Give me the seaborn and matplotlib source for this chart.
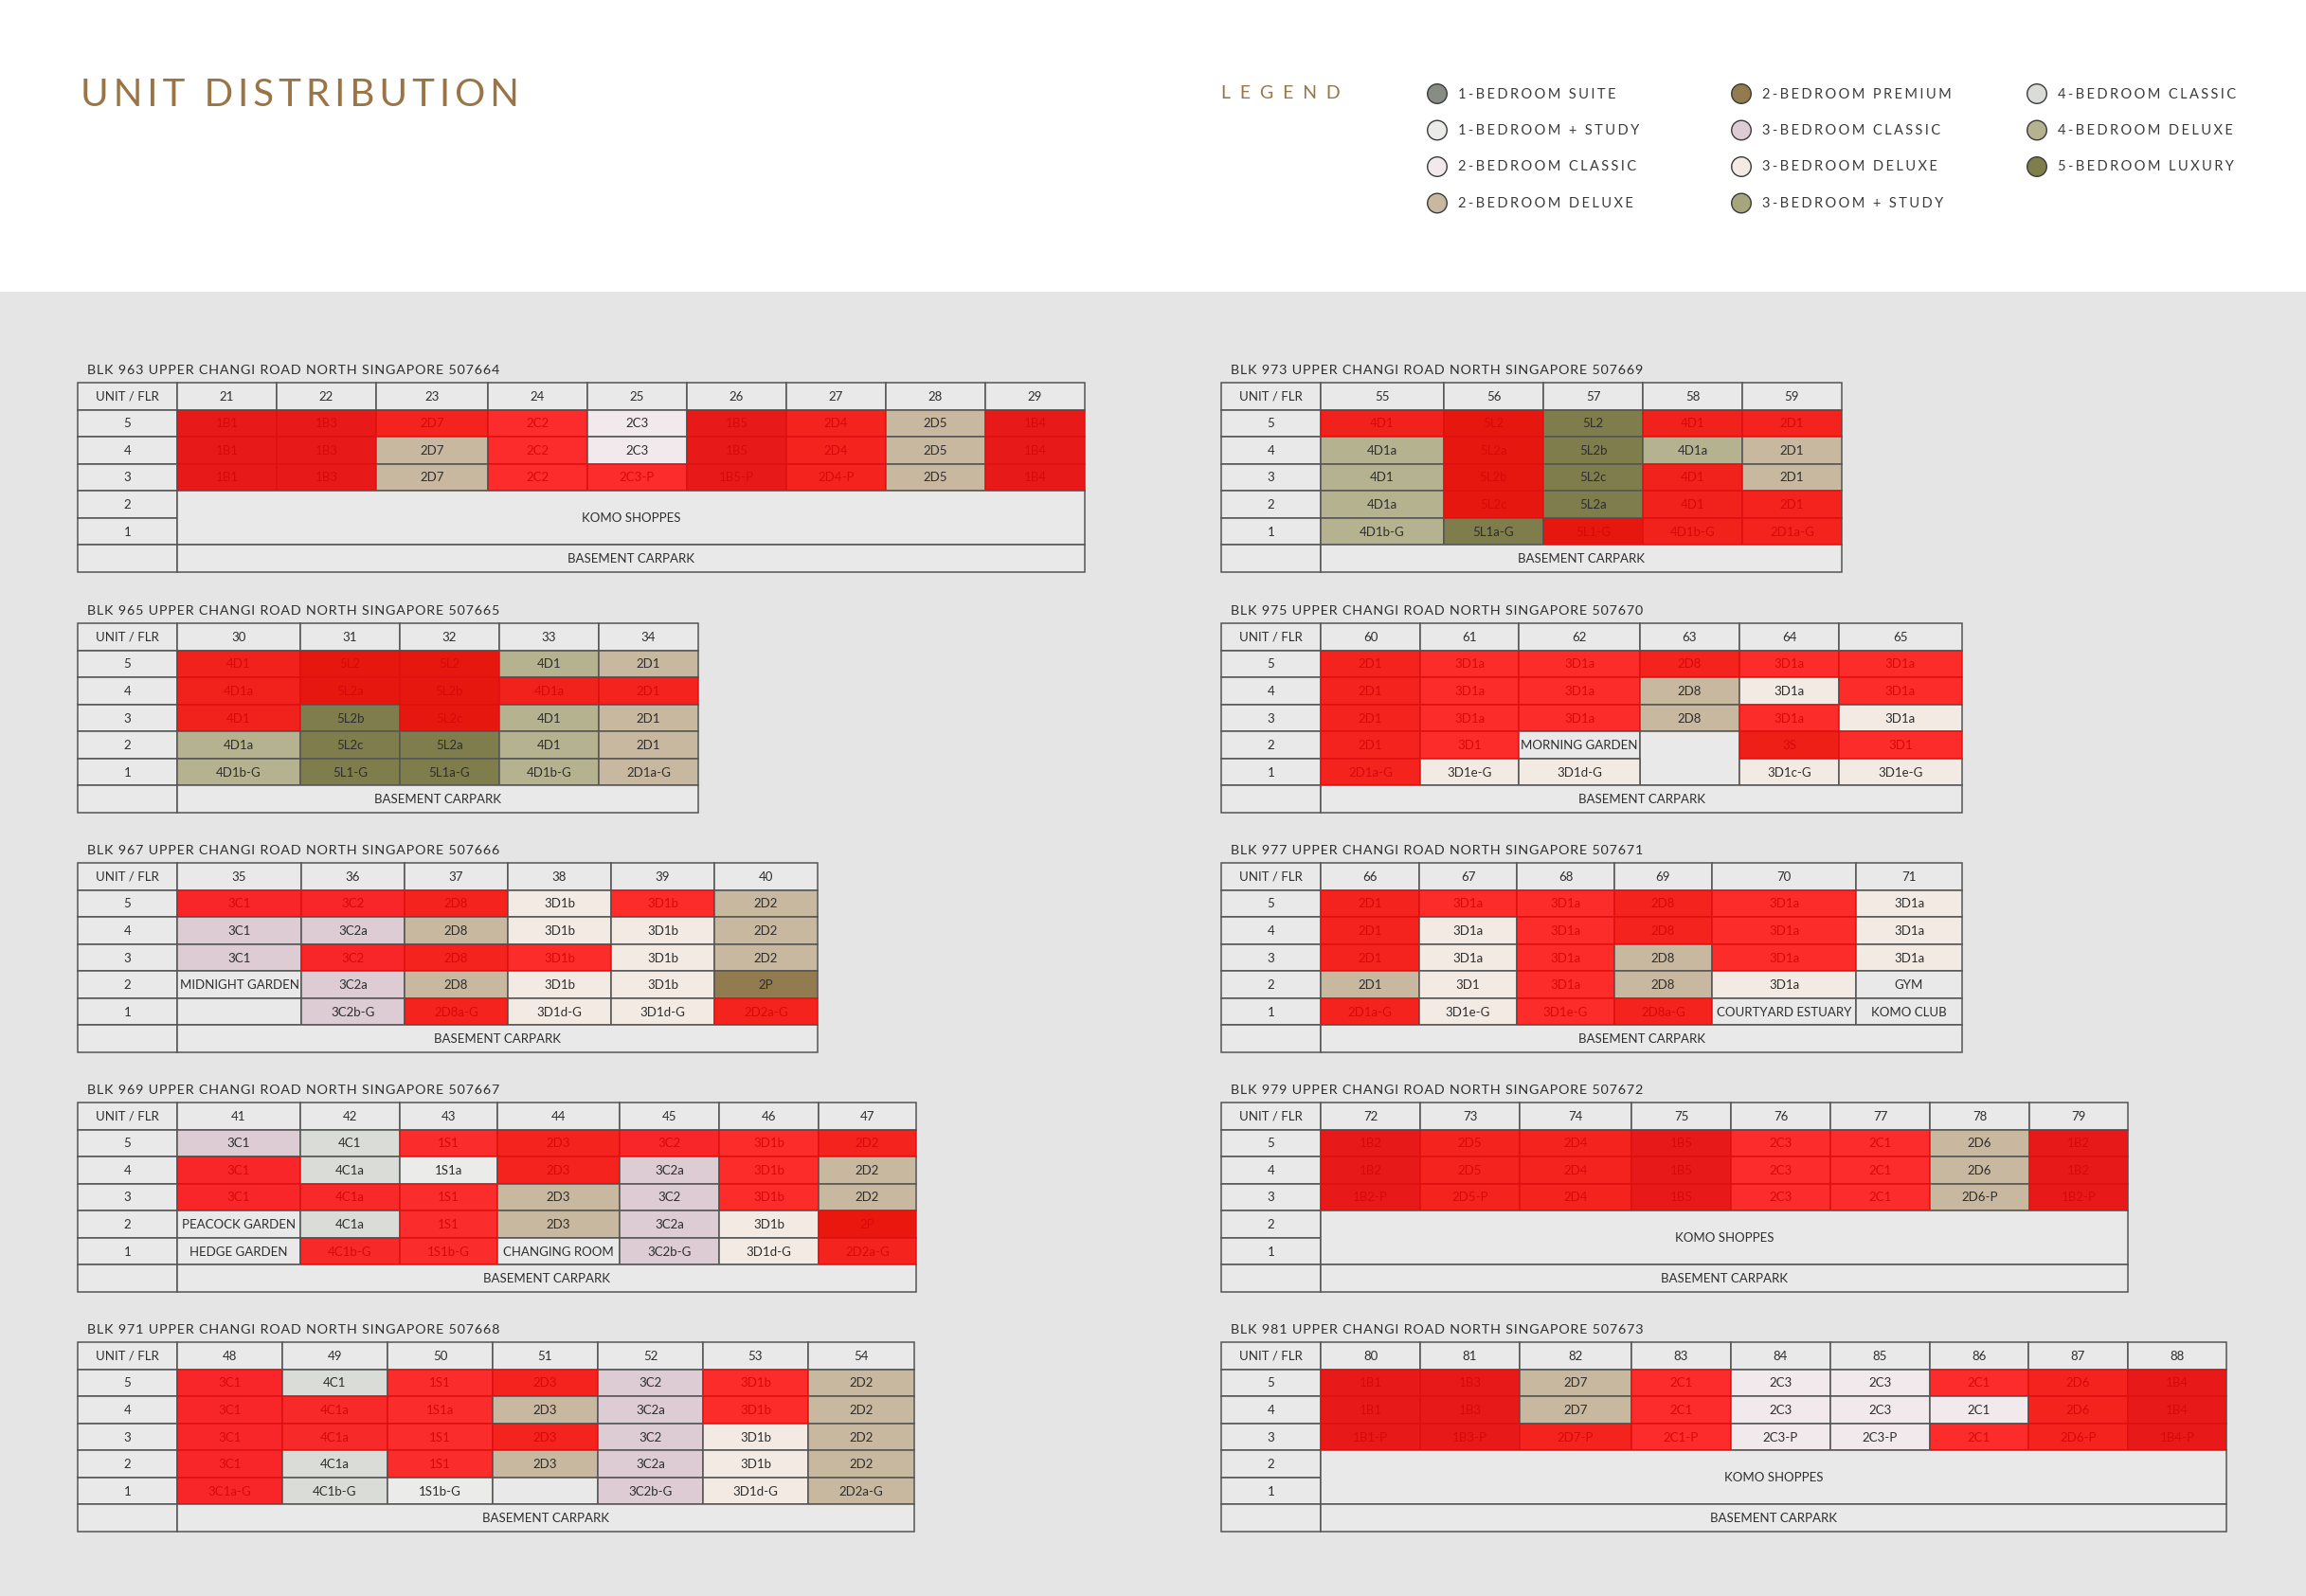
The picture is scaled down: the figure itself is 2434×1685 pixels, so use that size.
import numpy as np
import pandas as pd
import matplotlib
matplotlib.use("Agg")
import matplotlib.pyplot as plt
from matplotlib.patches import Rectangle
import seaborn as sns

# ------------------------------------------------------------------ data
LEGEND_LABELS = ["1-BEDROOM SUITE", "1-BEDROOM + STUDY", "2-BEDROOM CLASSIC", "2-BEDROOM DELUXE",
                 "2-BEDROOM PREMIUM", "3-BEDROOM CLASSIC", "3-BEDROOM DELUXE", "3-BEDROOM + STUDY",
                 "4-BEDROOM CLASSIC", "4-BEDROOM DELUXE", "5-BEDROOM LUXURY"]
LEGEND_CODES = ["1B", "1S", "2C", "2D", "2P", "3C", "3D", "3S", "4C", "4D", "5L"]
LEGEND_COLORS = ["#878C85", "#EBEBE9", "#F1E9EC", "#C7B89F", "#927B4F", "#DDCCD3",
                 "#F3EAE3", "#A6A57B", "#DADCD8", "#B5B38F", "#7F7D4B"]

FLOOR_LABELS = ["5", "4", "3", "2", "1"]

BLK963_TITLE = "BLK 963 UPPER CHANGI ROAD NORTH SINGAPORE 507664"
BLK963_UNITS = ["21", "22", "23", "24", "25", "26", "27", "28", "29"]
BLK963_FLOORS = [["1B1", "1B3", "2D7", "2C2", "2C3", "1B5", "2D4", "2D5", "1B4"],
                 ["1B1", "1B3", "2D7", "2C2", "2C3", "1B5", "2D4", "2D5", "1B4"],
                 ["1B1", "1B3", "2D7", "2C2", "2C3-P", "1B5-P", "2D4-P", "2D5", "1B4"]]
BLK963_SOLD = ["111101101", "110101101", "110111101"]
BLK963_PODIUM = "KOMO SHOPPES"

BLK973_TITLE = "BLK 973 UPPER CHANGI ROAD NORTH SINGAPORE 507669"
BLK973_UNITS = ["55", "56", "57", "58", "59"]
BLK973_FLOORS = [["4D1", "5L2", "5L2", "4D1", "2D1"],
                 ["4D1a", "5L2a", "5L2b", "4D1a", "2D1"],
                 ["4D1", "5L2b", "5L2c", "4D1", "2D1"],
                 ["4D1a", "5L2c", "5L2a", "4D1", "2D1"],
                 ["4D1b-G", "5L1a-G", "5L1-G", "4D1b-G", "2D1a-G"]]
BLK973_SOLD = ["11011", "01000", "01010", "01011", "00111"]
BLK973_PODIUM = None

BLK965_TITLE = "BLK 965 UPPER CHANGI ROAD NORTH SINGAPORE 507665"
BLK965_UNITS = ["30", "31", "32", "33", "34"]
BLK965_FLOORS = [["4D1", "5L2", "5L2", "4D1", "2D1"],
                 ["4D1a", "5L2a", "5L2b", "4D1a", "2D1"],
                 ["4D1", "5L2b", "5L2c", "4D1", "2D1"],
                 ["4D1a", "5L2c", "5L2a", "4D1", "2D1"],
                 ["4D1b-G", "5L1-G", "5L1a-G", "4D1b-G", "2D1a-G"]]
BLK965_SOLD = ["11100", "11111", "10100", "00000", "00000"]
BLK965_PODIUM = None

BLK975_TITLE = "BLK 975 UPPER CHANGI ROAD NORTH SINGAPORE 507670"
BLK975_UNITS = ["60", "61", "62", "63", "64", "65"]
BLK975_FLOORS = [["2D1", "3D1a", "3D1a", "2D8", "3D1a", "3D1a"],
                 ["2D1", "3D1a", "3D1a", "2D8", "3D1a", "3D1a"],
                 ["2D1", "3D1a", "3D1a", "2D8", "3D1a", "3D1a"],
                 ["2D1", "3D1", "MORNING GARDEN", "", "3S", "3D1"],
                 ["2D1a-G", "3D1e-G", "3D1d-G", "^", "3D1c-G", "3D1e-G"]]
BLK975_SOLD = ["111111", "111001", "111010", "110011", "100000"]
BLK975_PODIUM = None

BLK967_TITLE = "BLK 967 UPPER CHANGI ROAD NORTH SINGAPORE 507666"
BLK967_UNITS = ["35", "36", "37", "38", "39", "40"]
BLK967_FLOORS = [["3C1", "3C2", "2D8", "3D1b", "3D1b", "2D2"],
                 ["3C1", "3C2a", "2D8", "3D1b", "3D1b", "2D2"],
                 ["3C1", "3C2", "2D8", "3D1b", "3D1b", "2D2"],
                 ["MIDNIGHT GARDEN", "3C2a", "2D8", "3D1b", "3D1b", "2P"],
                 ["", "3C2b-G", "2D8a-G", "3D1d-G", "3D1d-G", "2D2a-G"]]
BLK967_SOLD = ["111010", "000000", "011100", "000000", "001001"]
BLK967_PODIUM = None

BLK977_TITLE = "BLK 977 UPPER CHANGI ROAD NORTH SINGAPORE 507671"
BLK977_UNITS = ["66", "67", "68", "69", "70", "71"]
BLK977_FLOORS = [["2D1", "3D1a", "3D1a", "2D8", "3D1a", "3D1a"],
                 ["2D1", "3D1a", "3D1a", "2D8", "3D1a", "3D1a"],
                 ["2D1", "3D1a", "3D1a", "2D8", "3D1a", "3D1a"],
                 ["2D1", "3D1", "3D1a", "2D8", "3D1a", "GYM"],
                 ["2D1a-G", "3D1e-G", "3D1e-G", "2D8a-G", "COURTYARD ESTUARY", "KOMO CLUB"]]
BLK977_SOLD = ["111110", "101110", "101010", "001000", "101100"]
BLK977_PODIUM = None

BLK969_TITLE = "BLK 969 UPPER CHANGI ROAD NORTH SINGAPORE 507667"
BLK969_UNITS = ["41", "42", "43", "44", "45", "46", "47"]
BLK969_FLOORS = [["3C1", "4C1", "1S1", "2D3", "3C2", "3D1b", "2D2"],
                 ["3C1", "4C1a", "1S1a", "2D3", "3C2a", "3D1b", "2D2"],
                 ["3C1", "4C1a", "1S1", "2D3", "3C2", "3D1b", "2D2"],
                 ["PEACOCK GARDEN", "4C1a", "1S1", "2D3", "3C2a", "3D1b", "2P"],
                 ["HEDGE GARDEN", "4C1b-G", "1S1b-G", "CHANGING ROOM", "3C2b-G", "3D1d-G", "2D2a-G"]]
BLK969_SOLD = ["0011111", "1001010", "1110010", "0010001", "0110001"]
BLK969_PODIUM = None

BLK979_TITLE = "BLK 979 UPPER CHANGI ROAD NORTH SINGAPORE 507672"
BLK979_UNITS = ["72", "73", "74", "75", "76", "77", "78", "79"]
BLK979_FLOORS = [["1B2", "2D5", "2D4", "1B5", "2C3", "2C1", "2D6", "1B2"],
                 ["1B2", "2D5", "2D4", "1B5", "2C3", "2C1", "2D6", "1B2"],
                 ["1B2-P", "2D5-P", "2D4", "1B5", "2C3", "2C1", "2D6-P", "1B2-P"]]
BLK979_SOLD = ["11111101", "11111101", "11111101"]
BLK979_PODIUM = "KOMO SHOPPES"

BLK971_TITLE = "BLK 971 UPPER CHANGI ROAD NORTH SINGAPORE 507668"
BLK971_UNITS = ["48", "49", "50", "51", "52", "53", "54"]
BLK971_FLOORS = [["3C1", "4C1", "1S1", "2D3", "3C2", "3D1b", "2D2"],
                 ["3C1", "4C1a", "1S1a", "2D3", "3C2a", "3D1b", "2D2"],
                 ["3C1", "4C1a", "1S1", "2D3", "3C2", "3D1b", "2D2"],
                 ["3C1", "4C1a", "1S1", "2D3", "3C2a", "3D1b", "2D2"],
                 ["3C1a-G", "4C1b-G", "1S1b-G", "", "3C2b-G", "3D1d-G", "2D2a-G"]]
BLK971_SOLD = ["1011010", "1110010", "1111000", "1010000", "1000000"]
BLK971_PODIUM = None

BLK981_TITLE = "BLK 981 UPPER CHANGI ROAD NORTH SINGAPORE 507673"
BLK981_UNITS = ["80", "81", "82", "83", "84", "85", "86", "87", "88"]
BLK981_FLOORS = [["1B1", "1B3", "2D7", "2C1", "2C3", "2C3", "2C1", "2D6", "1B4"],
                 ["1B1", "1B3", "2D7", "2C1", "2C3", "2C3", "2C1", "2D6", "1B4"],
                 ["1B1-P", "1B3-P", "2D7-P", "2C1-P", "2C3-P", "2C3-P", "2C1", "2D6-P", "1B4-P"]]
BLK981_SOLD = ["110100111", "110100011", "111100111"]
BLK981_PODIUM = "KOMO SHOPPES"

# ------------------------------------------------------------------ layout (pixels)
W, H = 2434, 1685
ROW_H = 200 / 7
LAYOUT = [
    (BLK963_TITLE, BLK963_UNITS, BLK963_FLOORS, BLK963_SOLD, BLK963_PODIUM, 82, 404, [105, 105, 105, 118, 105, 105, 105, 105, 105, 105]),
    (BLK973_TITLE, BLK973_UNITS, BLK973_FLOORS, BLK973_SOLD, BLK973_PODIUM, 1289, 404, [105, 130, 105, 105, 105, 105]),
    (BLK965_TITLE, BLK965_UNITS, BLK965_FLOORS, BLK965_SOLD, BLK965_PODIUM, 82, 658, [105, 130, 105, 105, 105, 105]),
    (BLK975_TITLE, BLK975_UNITS, BLK975_FLOORS, BLK975_SOLD, BLK975_PODIUM, 1289, 658, [105, 105, 104, 128, 105, 105, 130]),
    (BLK967_TITLE, BLK967_UNITS, BLK967_FLOORS, BLK967_SOLD, BLK967_PODIUM, 82, 911, [105, 131, 109, 109, 109, 109, 109]),
    (BLK977_TITLE, BLK977_UNITS, BLK977_FLOORS, BLK977_SOLD, BLK977_PODIUM, 1289, 911, [105, 104, 103, 103, 103, 152, 112]),
    (BLK969_TITLE, BLK969_UNITS, BLK969_FLOORS, BLK969_SOLD, BLK969_PODIUM, 82, 1164, [105, 130, 105, 103, 129, 105, 105, 103]),
    (BLK979_TITLE, BLK979_UNITS, BLK979_FLOORS, BLK979_SOLD, BLK979_PODIUM, 1289, 1164, [105, 105, 105, 118, 105, 105, 105, 105, 104]),
    (BLK971_TITLE, BLK971_UNITS, BLK971_FLOORS, BLK971_SOLD, BLK971_PODIUM, 82, 1417, [105, 111, 111, 111, 111, 111, 111, 112]),
    (BLK981_TITLE, BLK981_UNITS, BLK981_FLOORS, BLK981_SOLD, BLK981_PODIUM, 1289, 1417, [105, 105, 105, 118, 105, 105, 105, 104, 105, 104]),
]

# ------------------------------------------------------------------ style
sns.set_theme(style="white")
plt.rcParams['font.family'] = ['Lato', 'DejaVu Sans']

BG_TOP = "#FFFFFF"
BG = "#E5E5E5"
CELL_GREY = "#E9E9E9"
EDGE = "#555555"
TXT = "#2E2E2E"
GOLD = "#9B7446"
SOLD_RED = "#FF0000"
SOLD_ALPHA = 0.81
TYPE_COLORS = dict(zip(LEGEND_CODES, LEGEND_COLORS))
CELL_FS = 9.5

fig = plt.figure(figsize=(W / 100, H / 100), dpi=100)
ax = fig.add_axes([0, 0, 1, 1])
ax.set_xlim(0, W)
ax.set_ylim(H, 0)
ax.axis("off")

ax.add_patch(Rectangle((0, 0), W, 308, facecolor=BG_TOP, edgecolor="none", zorder=0))
ax.add_patch(Rectangle((0, 308), W, H - 308, facecolor=BG, edgecolor="none", zorder=0))


def spaced(s, sep="\u2009"):
    return sep.join(list(s))


def cell(x, y, w, h, label, color=CELL_GREY, sold=False, fs=CELL_FS):
    ax.add_patch(Rectangle((x, y), w, h, facecolor=color, edgecolor=EDGE, linewidth=1.1, zorder=2))
    if label:
        ax.text(x + w / 2, y + h / 2 + 0.5, label, ha="center", va="center", fontsize=fs,
                color=TXT, fontweight="normal", zorder=3)
    if sold:
        ax.add_patch(Rectangle((x, y), w, h, facecolor=SOLD_RED, edgecolor="none",
                               alpha=SOLD_ALPHA, zorder=4))


def cell_color(label):
    if label and label[0].isdigit():
        return TYPE_COLORS.get(label[:2], CELL_GREY)
    return CELL_GREY


def draw_block(title, units, floors, sold, podium, x0, y0, widths):
    xs = x0 + np.concatenate([[0], np.cumsum(widths)])
    rh = ROW_H
    ax.text(x0 + 10, y0 - 13, spaced(title, "\u200a"), ha="left", va="center", fontsize=10.3,
            color=TXT, fontweight="normal", zorder=3)
    # header
    cell(xs[0], y0, widths[0], rh, "UNIT / FLR")
    for j, u in enumerate(units):
        cell(xs[j + 1], y0, widths[j + 1], rh, u)
    # floor labels
    for i, fl in enumerate(FLOOR_LABELS):
        cell(xs[0], y0 + rh * (i + 1), widths[0], rh, fl)
    # units
    for i, row in enumerate(floors):
        for j, lab in enumerate(row):
            if lab == "^":
                continue
            span = 1
            k = i + 1
            while k < len(floors) and floors[k][j] == "^":
                span += 1
                k += 1
            cell(xs[j + 1], y0 + rh * (i + 1), widths[j + 1], rh * span, lab,
                 color=cell_color(lab), sold=sold[i][j] == "1")
    if podium:
        n = len(floors)
        cell(xs[1], y0 + rh * (n + 1), xs[-1] - xs[1], rh * (5 - n), podium)
    # basement
    cell(xs[0], y0 + rh * 6, widths[0], rh, "")
    cell(xs[1], y0 + rh * 6, xs[-1] - xs[1], rh, "BASEMENT CARPARK")


for blk in LAYOUT:
    draw_block(*blk)

# ------------------------------------------------------------------ header
ax.text(85, 100, spaced("UNIT DISTRIBUTION", "\u2009"), ha="left", va="center", fontsize=29,
        color=GOLD, fontweight="normal", zorder=3)
ax.text(1289, 98, spaced("LEGEND", " \u2005"), ha="left", va="center", fontsize=14,
        color=GOLD, fontweight="normal", zorder=3)

LEG_COL_X = [1517, 1838, 2150]
leg = pd.DataFrame({"label": LEGEND_LABELS, "color": LEGEND_COLORS})
leg["col"] = [0, 0, 0, 0, 1, 1, 1, 1, 2, 2, 2]
leg["row"] = [0, 1, 2, 3, 0, 1, 2, 3, 0, 1, 2]
leg["x"] = [LEG_COL_X[c] for c in leg["col"]]
leg["y"] = 99 + leg["row"] * 38.5
sns.scatterplot(data=leg, x="x", y="y", hue="label", palette=dict(zip(LEGEND_LABELS, LEGEND_COLORS)),
                s=220, edgecolor="#3A3A3A", linewidth=1.0, legend=False, ax=ax, zorder=5)
for _, r in leg.iterrows():
    ax.text(r["x"] + 22, r["y"] + 0.5, spaced(r["label"], "\u2006"), ha="left", va="center",
            fontsize=10.5, color="#3A3A3A", fontweight="normal", zorder=5)
ax.set_xlim(0, W)
ax.set_ylim(H, 0)
ax.set_xlabel("")
ax.set_ylabel("")

fig.savefig("out.png", dpi=100)
